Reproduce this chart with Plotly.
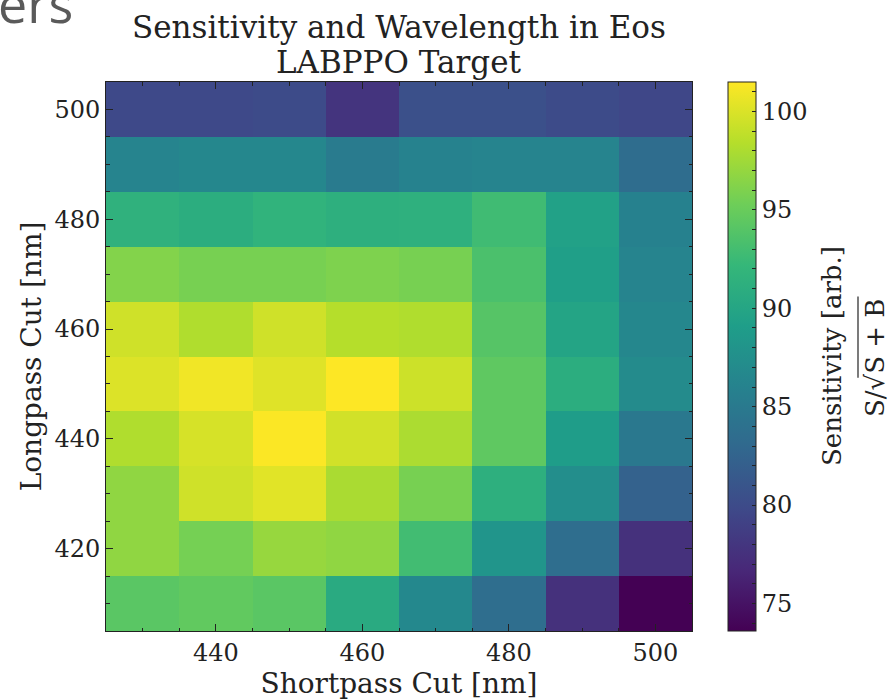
import plotly.graph_objects as go

shortpass = [430, 440, 450, 460, 470, 480, 490, 500]
longpass = [410, 420, 430, 440, 450, 460, 470, 480, 490, 500]

# rows: longpass 410 (bottom) -> 500 (top); columns: shortpass 430 -> 500
sens_410 = [94.2, 94.6, 94.2, 90.6, 86.7, 83.6, 77.5, 73.6]
sens_420 = [96.8, 95.6, 97.1, 96.8, 92.9, 88.1, 83.6, 77.5]
sens_430 = [96.8, 99.5, 100.3, 97.9, 95.7, 91.2, 87.3, 82.3]
sens_440 = [98.2, 99.8, 101.4, 99.6, 98.0, 94.5, 89.0, 84.8]
sens_450 = [100.1, 101.0, 100.2, 101.5, 99.4, 94.5, 91.0, 87.0]
sens_460 = [99.5, 98.2, 99.5, 98.4, 98.2, 94.0, 89.8, 86.5]
sens_470 = [96.2, 95.7, 95.7, 96.0, 95.7, 93.4, 89.2, 86.2]
sens_480 = [91.5, 91.0, 91.7, 91.2, 91.3, 92.8, 89.5, 85.9]
sens_490 = [86.2, 86.5, 86.5, 85.2, 86.0, 86.2, 86.2, 83.5]
sens_500 = [79.8, 79.8, 80.0, 77.8, 80.5, 80.5, 80.0, 79.6]

z = [sens_410, sens_420, sens_430, sens_440, sens_450,
     sens_460, sens_470, sens_480, sens_490, sens_500]

x_ticks = [440, 460, 480, 500]
y_ticks = [420, 440, 460, 480, 500]
cb_major = [75, 80, 85, 90, 95, 100]

title_lines = ["Sensitivity and Wavelength in Eos", "LABPPO Target"]
cb_title_lines = ["Sensitivity [arb.]", "S/√S + B"]

zmin = min(min(r) for r in z)
zmax = max(max(r) for r in z)
cb_vals = list(range(74, 102))
cb_text = [str(v) if v in cb_major else "" for v in cb_vals]

FONT = "DejaVu Serif"
INK = "#222222"

# plot-area geometry in pixels
W, H = 890, 700
L, R, T, B = 106, 198, 82, 65
PW, PH = W - L - R, H - T - B


def px(x):
    return (x - L) / PW


def py(y):
    return (H - B - y) / PH


fig = go.Figure(go.Heatmap(
    x=shortpass, y=longpass, z=z,
    colorscale="Viridis", zmin=zmin, zmax=zmax,
    colorbar=dict(
        x=px(728), xanchor="left", xpad=0, y=0, yanchor="bottom", ypad=0,
        len=1, lenmode="fraction", thickness=28,
        outlinewidth=1, outlinecolor=INK,
        tickvals=cb_vals, ticktext=cb_text, ticks="inside", ticklen=4,
        tickcolor=INK, tickfont=dict(family=FONT, size=24, color=INK),
    ),
))

axis_common = dict(
    showline=True, linecolor=INK, linewidth=1, mirror="ticks",
    ticks="inside", ticklen=7, tickcolor=INK, tickwidth=1,
    showgrid=False, zeroline=False,
    tickfont=dict(family=FONT, size=24, color=INK),
    minor=dict(ticks="inside", ticklen=3.5, dtick=5, tickcolor=INK, showgrid=False),
)

fig.update_xaxes(range=[425, 505], tickvals=x_ticks,
                 title=dict(text="Shortpass Cut [nm]", font=dict(family=FONT, size=28, color=INK), standoff=2),
                 **axis_common)
fig.update_yaxes(range=[405, 505], tickvals=y_ticks,
                 title=dict(text="Longpass Cut [nm]", font=dict(family=FONT, size=28, color=INK), standoff=4),
                 **axis_common)

annotations = [
    dict(text=title_lines[0], x=px(399), y=py(27), yanchor="middle"),
    dict(text=title_lines[1], x=px(399), y=py(62), yanchor="middle"),
]
for a in annotations:
    a.update(xref="paper", yref="paper", xanchor="center", showarrow=False,
             font=dict(family=FONT, size=31, color=INK))

annotations += [
    dict(text=cb_title_lines[0], x=px(832), y=py(358), textangle=-90),
    dict(text=cb_title_lines[1], x=px(875), y=py(360), textangle=-90),
]
for a in annotations[2:]:
    a.update(xref="paper", yref="paper", xanchor="center", yanchor="middle",
             showarrow=False, font=dict(family=FONT, size=26, color=INK))

annotations.append(dict(text="ers", xref="paper", yref="paper",
                        x=px(-4), xanchor="left", y=py(40), yanchor="bottom",
                        showarrow=False,
                        font=dict(family="Open Sans", size=52, color="#5a5a5a")))

# vinculum of the square root in the colour-bar label
shapes = [dict(type="line", xref="paper", yref="paper",
               x0=px(858), x1=px(858), y0=py(298), y1=py(380),
               line=dict(color=INK, width=1.2))]

fig.update_layout(
    width=W, height=H,
    margin=dict(l=L, r=R, t=T, b=B),
    paper_bgcolor="white", plot_bgcolor="white",
    annotations=annotations, shapes=shapes,
)

fig.write_html("out.html")
